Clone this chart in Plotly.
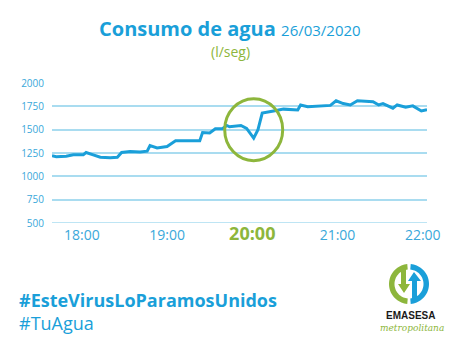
import numpy as np
import plotly.graph_objects as go

# ---------------- data ----------------
times = ["17:39", "17:42", "17:49", "17:54", "18:01", "18:03", "18:08", "18:13",
         "18:20", "18:25", "18:28", "18:34", "18:41", "18:46", "18:48", "18:53",
         "19:00", "19:06", "19:23", "19:25", "19:30", "19:34", "19:39", "19:42",
         "19:44", "19:52", "19:56", "20:01", "20:04", "20:07", "20:15", "20:22",
         "20:32", "20:34", "20:39", "20:55", "20:59", "21:04", "21:09", "21:14",
         "21:25", "21:29", "21:32", "21:39", "21:42", "21:48", "21:53", "21:59",
         "22:03"]
flow = [1220, 1210, 1215, 1230, 1230, 1255, 1230, 1205,
        1200, 1205, 1255, 1265, 1260, 1270, 1330, 1305,
        1320, 1380, 1380, 1470, 1465, 1510, 1510, 1545,
        1531, 1545, 1513, 1410, 1500, 1678, 1700, 1720,
        1712, 1765, 1745, 1760, 1810, 1780, 1765, 1810,
        1800, 1765, 1780, 1730, 1765, 1740, 1755, 1700,
        1715]
x_tick_labels = ["18:00", "19:00", "20:00", "21:00", "22:00"]
highlight_label = "20:00"
y_ticks = [500, 750, 1000, 1250, 1500, 1750, 2000]
circle_center = ("20:01", 1500)

BLUE = "#1A9FD9"
LIGHT_BLUE = "#A9DCF0"
TICK_BLUE = "#3AA8DA"
GREEN = "#8DB63C"

W, H = 460, 354
ML, MR, MT, MB = 52, 33, 83, 131


def to_min(t):
    h, m = t.split(":")
    return int(h) * 60 + int(m)


def px2paper(px, py):
    pw = W - ML - MR
    ph = H - MT - MB
    return (px - ML) / pw, (H - MB - py) / ph


xm = [to_min(t) for t in times]

fig = go.Figure()

# bottom gridline (edge of range, not drawn by the axis itself)
fig.add_shape(
    type="line", xref="paper", yref="y", x0=0, x1=1,
    y0=y_ticks[0], y1=y_ticks[0],
    line=dict(color=LIGHT_BLUE, width=1.5), layer="below",
)

fig.add_trace(go.Scatter(
    x=xm, y=flow, mode="lines",
    line=dict(color=BLUE, width=3),
    hoverinfo="skip", showlegend=False, cliponaxis=False,
))

ticktext = []
for t in x_tick_labels:
    if t == highlight_label:
        ticktext.append(f"<span style='color:{GREEN};font-size:18px'><b>{t}</b></span>")
    else:
        ticktext.append(t)

fig.update_layout(
    width=W, height=H, autosize=False,
    margin=dict(l=ML, r=MR, t=MT, b=MB, pad=0),
    paper_bgcolor="white", plot_bgcolor="white",
    font=dict(family="Open Sans", color=BLUE),
    xaxis=dict(
        range=[to_min(times[0]), to_min(times[-1])],
        showgrid=False, zeroline=False, showline=False, ticks="",
        tickvals=[to_min(t) for t in x_tick_labels], ticktext=ticktext,
        tickfont=dict(size=14, color=TICK_BLUE, family="Open Sans"),
        ticklabelstandoff=2,
    ),
    yaxis=dict(
        range=[y_ticks[0], y_ticks[-1]],
        tickvals=y_ticks, showgrid=True, gridcolor=LIGHT_BLUE, gridwidth=1.5,
        zeroline=False, showline=False, ticks="",
        tickfont=dict(size=10, color=TICK_BLUE, family="Open Sans"),
        ticklabelstandoff=7,
    ),
)

# green highlight circle (pixel-sized around a data anchor)
fig.add_shape(
    type="circle", xref="x", yref="y",
    xsizemode="pixel", ysizemode="pixel",
    xanchor=to_min(circle_center[0]), yanchor=circle_center[1],
    x0=-29, x1=29, y0=-31, y1=31,
    line=dict(color=GREEN, width=3), fillcolor="rgba(0,0,0,0)",
)

# title
tx, ty = px2paper(230, 28)
fig.add_annotation(
    xref="paper", yref="paper", x=tx, y=ty, showarrow=False,
    xanchor="center", yanchor="middle",
    text="<b>Consumo de agua</b> <span style='font-size:15px'>26/03/2020</span>",
    font=dict(size=20, color=BLUE, family="Open Sans"),
)
sx, sy = px2paper(230, 52)
fig.add_annotation(
    xref="paper", yref="paper", x=sx, y=sy, showarrow=False,
    xanchor="center", yanchor="middle",
    text="(l/seg)", font=dict(size=14, color=GREEN, family="Open Sans"),
)

# hashtags
hx, hy = px2paper(17, 300)
fig.add_annotation(
    xref="paper", yref="paper", x=hx, y=hy, showarrow=False,
    xanchor="left", yanchor="middle",
    text="<b>#EsteVirusLoParamosUnidos</b>",
    font=dict(size=18, color=BLUE, family="Open Sans"),
)
hx2, hy2 = px2paper(17, 323)
fig.add_annotation(
    xref="paper", yref="paper", x=hx2, y=hy2, showarrow=False,
    xanchor="left", yanchor="middle",
    text="#TuAgua",
    font=dict(size=18, color=BLUE, family="Open Sans"),
)

# logo
lx, ly = px2paper(409, 284)


def ring_path(a0, a1, r_out, r_in, n=40):
    a = np.radians(np.linspace(a0, a1, n))
    pts = [(r_out * np.cos(t), r_out * np.sin(t)) for t in a]
    pts += [(r_in * np.cos(t), r_in * np.sin(t)) for t in a[::-1]]
    return "M " + " L ".join(f"{x:.2f},{y:.2f}" for x, y in pts) + " Z"


def poly_path(pts):
    return "M " + " L ".join(f"{x},{y}" for x, y in pts) + " Z"


for a0, a1, col in [(95, 265, GREEN), (-85, 85, BLUE)]:
    fig.add_shape(
        type="path", xref="paper", yref="paper",
        xsizemode="pixel", ysizemode="pixel", xanchor=lx, yanchor=ly,
        path=ring_path(a0, a1, 20, 14.5), fillcolor=col, line=dict(width=0),
    )
# arrows
fig.add_shape(
    type="path", xref="paper", yref="paper",
    xsizemode="pixel", ysizemode="pixel", xanchor=lx, yanchor=ly,
    path=poly_path([(-8, 15), (-3, 15), (-3, 0), (1, 0), (-5, -9), (-11, 0), (-8, 0)]),
    fillcolor=GREEN, line=dict(width=0),
)
fig.add_shape(
    type="path", xref="paper", yref="paper",
    xsizemode="pixel", ysizemode="pixel", xanchor=lx, yanchor=ly,
    path=poly_path([(3, -17), (8, -17), (8, 3), (12, 3), (5, 12), (-1, 3), (3, 3)]),
    fillcolor=BLUE, line=dict(width=0),
)
ex, ey = px2paper(410, 315)
fig.add_annotation(
    xref="paper", yref="paper", x=ex, y=ey, showarrow=False,
    xanchor="center", yanchor="middle",
    text="<b>EMASESA</b>", font=dict(size=10, color="#1a1a1a", family="Liberation Sans"),
)
mx, my = px2paper(412, 328)
fig.add_annotation(
    xref="paper", yref="paper", x=mx, y=my, showarrow=False,
    xanchor="center", yanchor="middle",
    text="<i>metropolitana</i>", font=dict(size=9, color=GREEN, family="DejaVu Serif"),
)

fig.write_html("out.html")
